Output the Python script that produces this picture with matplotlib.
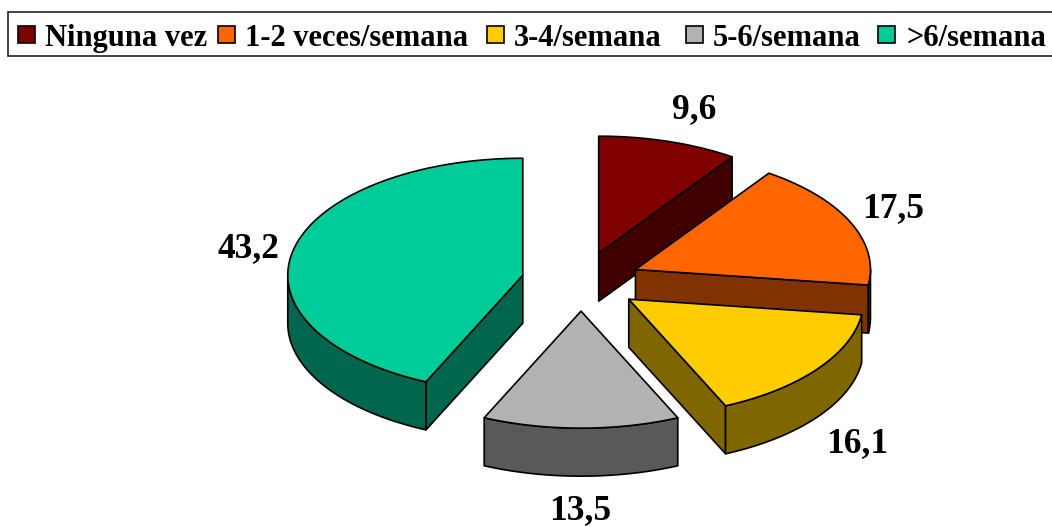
import numpy as np
import matplotlib
matplotlib.use("Agg")
import matplotlib.pyplot as plt
from matplotlib.patches import Polygon, Rectangle

categories = ["Ninguna vez", "1-2 veces/semana", "3-4/semana", "5-6/semana", ">6/semana"]
values = [9.6, 17.5, 16.1, 13.5, 43.2]
value_labels = ["9,6", "17,5", "16,1", "13,5", "43,2"]
top_colors = ["#800000", "#FF6600", "#FFCC00", "#B2B2B2", "#00CC99"]
side_colors = ["#400000", "#803300", "#806600", "#595959", "#00664D"]

# pie geometry in pixels
CX, CY, RX, RY, DEPTH, EXPLODE = 581, 281.5, 235, 117, 48, 0.2534
label_xy = [(694, 110), (893, 209), (857, 444), (580, 511), (248, 249)]
legend_box_x = [18, 218, 487, 686, 878]
legend_text_x = [45, 245, 514, 713, 906]

plt.rcParams["font.family"] = ["Liberation Serif"]
fig = plt.figure(figsize=(10.52, 5.27), dpi=100)
ax = fig.add_axes([0, 0, 1, 1])
ax.set_xlim(0, 1052)
ax.set_ylim(527, 0)
ax.axis("off")

total = sum(values)
edges = np.concatenate([[0], np.cumsum(values)]) / total * 2 * np.pi


def pt(cx, cy, a):
    return np.column_stack([cx + RX * np.sin(a), cy - RY * np.cos(a)])


def face(pts, color, z):
    ax.add_patch(Polygon(pts, closed=True, facecolor=color, edgecolor="black",
                         linewidth=1.2, joinstyle="round", zorder=z))


# drawing order: back to front
order = [0, 1, 2, 4, 3]
for z, i in enumerate(order):
    a1, a2 = edges[i], edges[i + 1]
    mid = (a1 + a2) / 2
    cx = CX + EXPLODE * RX * np.sin(mid)
    cy = CY - EXPLODE * RY * np.cos(mid)
    apex = np.array([[cx, cy]])
    down = np.array([0, DEPTH])
    zz = z * 10
    # cut faces that look at the viewer
    for a, visible in ((a1, np.sin(a1) < -1e-9), (a2, np.sin(a2) > 1e-9)):
        if visible:
            p = pt(cx, cy, np.array([a]))
            face(np.vstack([apex, p, p + down, apex + down]), side_colors[i], zz)
    # outer rim, front half only
    lo, hi = max(a1, np.pi / 2), min(a2, 3 * np.pi / 2)
    if hi > lo:
        arc = pt(cx, cy, np.linspace(lo, hi, 80))
        face(np.vstack([arc, (arc + down)[::-1]]), side_colors[i], zz + 1)
    # top surface
    arc = pt(cx, cy, np.linspace(a1, a2, 160))
    face(np.vstack([apex, arc]), top_colors[i], zz + 2)

for (x, y), s in zip(label_xy, value_labels):
    ax.text(x, y, s, ha="center", va="center", fontsize=25.5, fontweight="bold",
            color="black", zorder=100)

# legend band (runs off the right edge, as in the reference)
ax.add_patch(Rectangle((7.5, 11.5), 1060, 44.5, facecolor="white",
                       edgecolor="#222222", linewidth=1.2, clip_on=True, zorder=100))
for bx, tx, c, name in zip(legend_box_x, legend_text_x, top_colors, categories):
    ax.add_patch(Rectangle((bx, 26), 17, 17, facecolor=c, edgecolor="black",
                           linewidth=1.2, zorder=101))
    ax.text(tx, 35, name, ha="left", va="center_baseline", fontsize=22, fontweight="bold",
            color="black", zorder=101)

fig.savefig("out.png", dpi=100, facecolor="white")
